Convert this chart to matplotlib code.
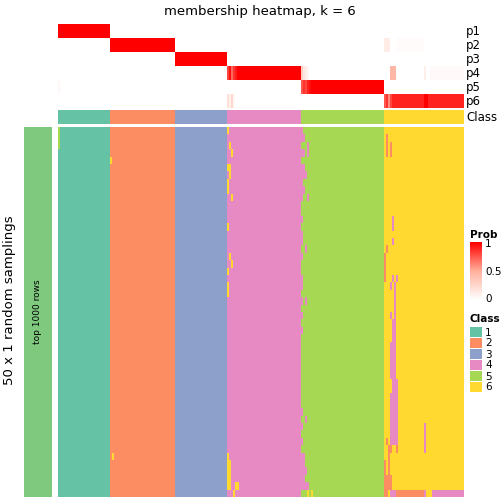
import matplotlib
matplotlib.use("Agg")
import matplotlib.pyplot as plt
import numpy as np
from matplotlib.colors import ListedColormap, LinearSegmentedColormap

# class colours (Set2) and number of columns per class
class_colors = ["#66C2A5", "#FC8D62", "#8DA0CB", "#E78AC3", "#A6D854", "#FFD92F"]
class_counts = [26, 32, 26, 37, 41, 40]
row_names = ["p1", "p2", "p3", "p4", "p5", "p6"]
n_samplings = 50

# membership deviations from the pure 0/1 pattern: (row, col_start, col_end, value)
prob_fix = [
    (1, 162, 164, 0.12), (1, 168, 181, 0.02),
    (3, 84, 84, 0.8), (3, 85, 85, 0.95), (3, 86, 86, 0.7), (3, 87, 87, 0.85), (3, 88, 88, 0.92),
    (3, 121, 121, 0.3), (3, 122, 122, 0.15), (3, 123, 123, 0.1), (3, 124, 124, 0.05),
    (3, 165, 167, 0.45), (3, 182, 182, 0.1), (3, 185, 201, 0.03),
    (4, 0, 0, 0.05),
    (4, 121, 121, 0.75), (4, 122, 122, 0.85), (4, 123, 123, 0.8), (4, 124, 124, 0.9), (4, 125, 125, 0.95),
    (5, 84, 84, 0.2), (5, 85, 85, 0.1), (5, 86, 86, 0.25), (5, 87, 87, 0.05),
    (5, 162, 201, 0.9),
    (5, 162, 162, 0.75), (5, 163, 163, 0.85), (5, 164, 164, 0.6), (5, 165, 165, 0.8),
    (5, 182, 183, 1.0),
]

# first column of class 5 in each sampling row
b45 = [122, 123, 121, 123, 121, 123, 124, 122, 123, 122, 121, 121, 122, 121, 122, 122, 121,
       122, 121, 121, 122, 122, 121, 122, 121,
       122, 121, 122, 121, 121, 121, 121, 121, 121, 121, 121, 121, 121, 122, 121, 122, 121,
       122, 121, 123, 124, 124, 123, 125, 121]

# other label changes: (row_start, row_end, col_start, col_end, class)
patches = [
    (0, 2, 0, 0, 5), (4, 4, 26, 26, 6), (44, 44, 27, 27, 6),
    (0, 0, 84, 84, 6), (2, 2, 85, 85, 6), (3, 3, 86, 86, 6), (5, 5, 84, 85, 6),
    (6, 6, 85, 85, 6), (7, 8, 84, 84, 6), (9, 9, 86, 86, 6), (13, 13, 84, 84, 6),
    (17, 17, 85, 85, 6), (18, 18, 86, 86, 6), (19, 19, 84, 84, 6), (21, 22, 84, 84, 6),
    (44, 44, 84, 84, 6), (45, 48, 84, 85, 6), (48, 48, 88, 89, 6), (49, 49, 87, 87, 6),
    (2, 2, 124, 124, 4), (3, 3, 124, 124, 4), (9, 9, 124, 124, 4), (16, 16, 123, 123, 4),
    (23, 23, 123, 123, 4), (39, 39, 123, 123, 4), (45, 45, 123, 123, 5),
    (49, 49, 124, 124, 6), (49, 49, 126, 126, 6),
    (1, 1, 163, 163, 2), (2, 3, 163, 163, 2), (2, 3, 165, 165, 2),
    (12, 13, 166, 166, 4), (15, 15, 166, 166, 4), (16, 16, 163, 163, 2),
    (17, 20, 162, 162, 2), (20, 20, 166, 166, 4), (20, 20, 168, 168, 4),
    (21, 21, 165, 165, 4), (21, 21, 167, 167, 4), (22, 24, 167, 167, 4),
    (25, 25, 165, 165, 4), (25, 25, 167, 167, 4), (26, 28, 166, 167, 4),
    (29, 33, 165, 167, 4), (34, 35, 166, 168, 4), (36, 41, 165, 168, 4),
    (40, 43, 182, 182, 4), (42, 42, 165, 168, 4), (42, 42, 163, 163, 2),
    (43, 43, 164, 165, 2), (43, 43, 168, 168, 2), (44, 44, 164, 164, 2),
    (45, 46, 162, 162, 2), (45, 46, 164, 164, 2), (47, 48, 162, 165, 2),
    (49, 49, 162, 163, 2), (49, 49, 165, 167, 4), (49, 49, 168, 181, 2),
    (49, 49, 182, 182, 4), (49, 49, 186, 201, 4),
]

# build matrices
cls = np.repeat(np.arange(1, 7), class_counts)
ncol = len(cls)
prob = np.zeros((6, ncol))
for k in range(6):
    prob[k, cls == k + 1] = 1.0
for r, c0, c1, v in prob_fix:
    prob[r, c0:c1 + 1] = v

main = np.tile(cls, (n_samplings, 1))
start4 = sum(class_counts[:3])
end5 = sum(class_counts[:5])
for r, b in enumerate(b45):
    main[r, start4:b] = 4
    main[r, b:end5] = 5
for r0, r1, c0, c1, k in patches:
    main[r0:r1 + 1, c0:c1 + 1] = k

W = 504.0
def box(x0, y0, x1, y1):
    return [x0 / W, 1 - y1 / W, (x1 - x0) / W, (y1 - y0) / W]

cmap_cls = ListedColormap(class_colors)
cmap_prob = LinearSegmentedColormap.from_list("prob", ["#FFFFFF", "#FFB09C", "#FF0000"])

fig = plt.figure(figsize=(5.04, 5.04), dpi=100)

ax = fig.add_axes(box(58, 24, 463, 108))
ax.imshow(prob, cmap=cmap_prob, vmin=0, vmax=1, aspect="auto", interpolation="nearest")
ax.axis("off")

ax = fig.add_axes(box(58, 110, 463, 124))
ax.imshow(cls[None, :], cmap=cmap_cls, vmin=0.5, vmax=6.5, aspect="auto", interpolation="nearest")
ax.axis("off")

ax = fig.add_axes(box(58, 127, 463, 497))
ax.imshow(main, cmap=cmap_cls, vmin=0.5, vmax=6.5, aspect="auto", interpolation="nearest")
ax.axis("off")

ax = fig.add_axes(box(24, 127, 52, 497))
ax.set_facecolor("#7FC97F")
ax.set_xticks([])
ax.set_yticks([])
for s in ax.spines.values():
    s.set_visible(False)
ax.text(0.5, 0.5, "top 1000 rows", rotation=90, ha="center", va="center",
        fontsize=6.5, transform=ax.transAxes)

fig.text(260 / W, 1 - 11 / W, "membership heatmap, k = 6", ha="center", va="center", fontsize=9.5)
fig.text(10 / W, 1 - 300 / W, "50 x 1 random samplings", rotation=90, ha="center", va="center",
         fontsize=9.5)

for i, name in enumerate(row_names):
    fig.text(466 / W, 1 - (31 + 14 * i) / W, name, ha="left", va="center", fontsize=8.5)
fig.text(466 / W, 1 - 117 / W, "Class", ha="left", va="center", fontsize=8.5)

# legends
fig.text(470 / W, 1 - 235 / W, "Prob", ha="left", va="center", fontsize=7.5, fontweight="bold")
ax = fig.add_axes(box(470, 242, 482, 300))
ax.imshow(np.linspace(1, 0, 100)[:, None], cmap=cmap_prob, vmin=0, vmax=1, aspect="auto")
ax.axis("off")
for v, y in [(1, 244), (0.5, 272), (0, 299)]:
    fig.text(485 / W, 1 - y / W, str(v), ha="left", va="center", fontsize=7.5)

fig.text(470 / W, 1 - 319 / W, "Class", ha="left", va="center", fontsize=7.5, fontweight="bold")
for i, col in enumerate(class_colors):
    y0 = 327 + 11 * i
    ax = fig.add_axes(box(470, y0, 482, y0 + 10))
    ax.set_facecolor(col)
    ax.set_xticks([])
    ax.set_yticks([])
    for s in ax.spines.values():
        s.set_visible(False)
    fig.text(485 / W, 1 - (y0 + 5.5) / W, str(i + 1), ha="left", va="center", fontsize=7.5)

fig.savefig("out.png", dpi=100)
